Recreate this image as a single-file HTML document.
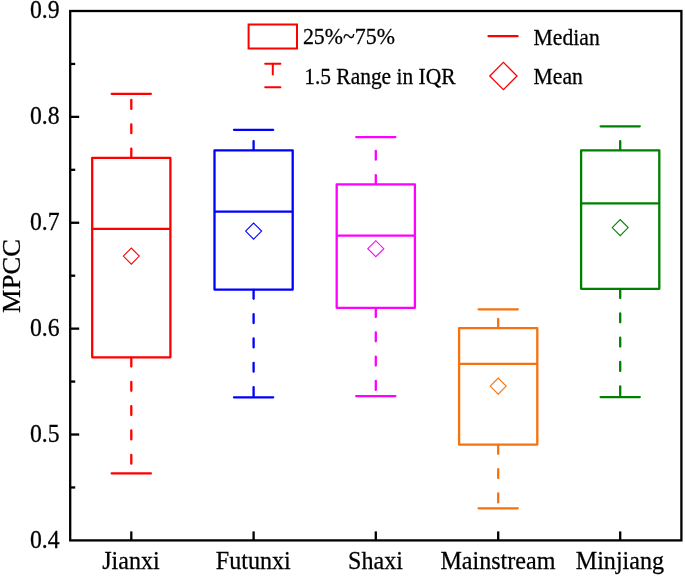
<!DOCTYPE html>
<html><head><meta charset="utf-8"><title>MPCC box plot</title>
<style>
html,body{margin:0;padding:0;background:#fff;}
svg{display:block;}
text{font-family:"Liberation Serif","Times New Roman",serif;fill:#000;stroke:#000;stroke-width:0.25px;}
.tk{font-size:23.7px;}
.xk{font-size:24.1px;}
.lg{font-size:21.65px;}
.ti{font-size:25.8px;}
</style></head><body>
<svg width="685" height="576" viewBox="0 0 685 576">
<rect width="685" height="576" fill="#fff"/>
<g stroke="#ff0000" fill="none" stroke-width="2.3" stroke-linecap="round">
<line x1="131.3" y1="157.8" x2="131.3" y2="93.8" stroke-dasharray="8.9 15.4" stroke-dashoffset="-0.3"/>
<line x1="131.3" y1="357.3" x2="131.3" y2="473.4" stroke-dasharray="8.9 15.4" stroke-dashoffset="-0.3"/>
<line x1="111.7" y1="93.8" x2="150.9" y2="93.8"/>
<line x1="111.7" y1="473.4" x2="150.9" y2="473.4"/>
<rect x="92.2" y="157.8" width="78.2" height="199.5" stroke-linejoin="round"/>
<line x1="92.2" y1="228.8" x2="170.4" y2="228.8" stroke-linecap="butt"/>
<path d="M123.3 256.1L131.3 248.1L139.3 256.1L131.3 264.1Z" stroke-width="1.1" stroke-linejoin="miter"/>
</g>
<g stroke="#0000ff" fill="none" stroke-width="2.3" stroke-linecap="round">
<line x1="253.6" y1="150.3" x2="253.6" y2="129.8" stroke-dasharray="8.9 15.4" stroke-dashoffset="-0.3"/>
<line x1="253.6" y1="289.6" x2="253.6" y2="397.3" stroke-dasharray="8.9 15.4" stroke-dashoffset="-0.3"/>
<line x1="234.0" y1="129.8" x2="273.2" y2="129.8"/>
<line x1="234.0" y1="397.3" x2="273.2" y2="397.3"/>
<rect x="214.5" y="150.3" width="78.2" height="139.3" stroke-linejoin="round"/>
<line x1="214.5" y1="211.6" x2="292.7" y2="211.6" stroke-linecap="butt"/>
<path d="M245.6 231.1L253.6 223.1L261.6 231.1L253.6 239.1Z" stroke-width="1.1" stroke-linejoin="miter"/>
</g>
<g stroke="#ff00ff" fill="none" stroke-width="2.3" stroke-linecap="round">
<line x1="375.8" y1="184.3" x2="375.8" y2="137.1" stroke-dasharray="8.9 15.4" stroke-dashoffset="-0.3"/>
<line x1="375.8" y1="307.8" x2="375.8" y2="396.1" stroke-dasharray="8.9 15.4" stroke-dashoffset="-0.3"/>
<line x1="356.2" y1="137.1" x2="395.4" y2="137.1"/>
<line x1="356.2" y1="396.1" x2="395.4" y2="396.1"/>
<rect x="336.7" y="184.3" width="78.2" height="123.5" stroke-linejoin="round"/>
<line x1="336.7" y1="235.7" x2="414.9" y2="235.7" stroke-linecap="butt"/>
<path d="M367.8 248.7L375.8 240.7L383.8 248.7L375.8 256.7Z" stroke-width="1.1" stroke-linejoin="miter"/>
</g>
<g stroke="#f5720f" fill="none" stroke-width="2.3" stroke-linecap="round">
<line x1="498.2" y1="328.1" x2="498.2" y2="309.3" stroke-dasharray="8.9 15.4" stroke-dashoffset="-0.3"/>
<line x1="498.2" y1="444.6" x2="498.2" y2="508.3" stroke-dasharray="8.9 15.4" stroke-dashoffset="-0.3"/>
<line x1="478.6" y1="309.3" x2="517.8" y2="309.3"/>
<line x1="478.6" y1="508.3" x2="517.8" y2="508.3"/>
<rect x="459.1" y="328.1" width="78.2" height="116.5" stroke-linejoin="round"/>
<line x1="459.1" y1="363.9" x2="537.3" y2="363.9" stroke-linecap="butt"/>
<path d="M490.2 386.1L498.2 378.1L506.2 386.1L498.2 394.1Z" stroke-width="1.1" stroke-linejoin="miter"/>
</g>
<g stroke="#008000" fill="none" stroke-width="2.3" stroke-linecap="round">
<line x1="620.2" y1="150.3" x2="620.2" y2="126.3" stroke-dasharray="8.9 15.4" stroke-dashoffset="-0.3"/>
<line x1="620.2" y1="288.8" x2="620.2" y2="397.1" stroke-dasharray="8.9 15.4" stroke-dashoffset="-0.3"/>
<line x1="600.6" y1="126.3" x2="639.8" y2="126.3"/>
<line x1="600.6" y1="397.1" x2="639.8" y2="397.1"/>
<rect x="581.1" y="150.3" width="78.2" height="138.5" stroke-linejoin="round"/>
<line x1="581.1" y1="203.3" x2="659.3" y2="203.3" stroke-linecap="butt"/>
<path d="M612.2 227.6L620.2 219.6L628.2 227.6L620.2 235.6Z" stroke-width="1.1" stroke-linejoin="miter"/>
</g>
<g stroke="#000" stroke-width="2.3" fill="none" stroke-linecap="butt">
<rect x="70.2" y="11.0" width="611.2" height="529.4"/>
<line x1="70.2" y1="487.46" x2="75.2" y2="487.46"/>
<line x1="70.2" y1="434.52" x2="79.2" y2="434.52"/>
<line x1="70.2" y1="381.58" x2="75.2" y2="381.58"/>
<line x1="70.2" y1="328.64" x2="79.2" y2="328.64"/>
<line x1="70.2" y1="275.70" x2="75.2" y2="275.70"/>
<line x1="70.2" y1="222.76" x2="79.2" y2="222.76"/>
<line x1="70.2" y1="169.82" x2="75.2" y2="169.82"/>
<line x1="70.2" y1="116.88" x2="79.2" y2="116.88"/>
<line x1="70.2" y1="63.94" x2="75.2" y2="63.94"/>
<line x1="131.3" y1="540.4" x2="131.3" y2="531.4"/>
<line x1="253.6" y1="540.4" x2="253.6" y2="531.4"/>
<line x1="375.8" y1="540.4" x2="375.8" y2="531.4"/>
<line x1="498.2" y1="540.4" x2="498.2" y2="531.4"/>
<line x1="620.2" y1="540.4" x2="620.2" y2="531.4"/>
</g>
<text class="tk" transform="translate(59.5 547.80) scale(1 1.08)" text-anchor="end">0.4</text>
<text class="tk" transform="translate(59.5 441.92) scale(1 1.08)" text-anchor="end">0.5</text>
<text class="tk" transform="translate(59.5 336.04) scale(1 1.08)" text-anchor="end">0.6</text>
<text class="tk" transform="translate(59.5 230.16) scale(1 1.08)" text-anchor="end">0.7</text>
<text class="tk" transform="translate(59.5 124.28) scale(1 1.08)" text-anchor="end">0.8</text>
<text class="tk" transform="translate(59.5 18.40) scale(1 1.08)" text-anchor="end">0.9</text>
<text class="xk" transform="translate(131.0 568.6) scale(1 1.07)" text-anchor="middle">Jianxi</text>
<text class="xk" transform="translate(253.3 568.6) scale(1 1.07)" text-anchor="middle">Futunxi</text>
<text class="xk" transform="translate(375.5 568.6) scale(1 1.07)" text-anchor="middle">Shaxi</text>
<text class="xk" transform="translate(497.9 568.6) scale(1 1.07)" text-anchor="middle">Mainstream</text>
<text class="xk" transform="translate(619.9 568.6) scale(1 1.07)" text-anchor="middle">Minjiang</text>
<text class="ti" transform="translate(19.8 276) rotate(-90) scale(1.03 1)" text-anchor="middle">MPCC</text>
<g stroke="#ff0000" fill="none" stroke-width="2" stroke-linecap="round">
<rect x="248.6" y="24.5" width="48.4" height="24"/>
<line x1="265.2" y1="63.8" x2="280.4" y2="63.8"/>
<line x1="265.2" y1="87.2" x2="280.4" y2="87.2"/>
<line x1="272.8" y1="63.8" x2="272.8" y2="74.5"/>
<line x1="488.5" y1="36.2" x2="517.6" y2="36.2" stroke-width="2.2"/>
<path d="M489.8 76L503.4 62.4L517 76L503.4 89.6Z" stroke-width="1.3" stroke-linejoin="miter"/>
</g>
<text class="lg" style="font-size:21.9px" transform="translate(302.9 44.1) scale(1 1.05)">25%~75%</text>
<text class="lg" style="font-size:21.45px" transform="translate(304.2 83.8) scale(1 1.07)">1.5 Range in IQR</text>
<text class="lg" transform="translate(533.6 44.6) scale(1 1.06)">Median</text>
<text class="lg" transform="translate(533.6 83.9) scale(1 1.06)">Mean</text>
</svg>
</body></html>
